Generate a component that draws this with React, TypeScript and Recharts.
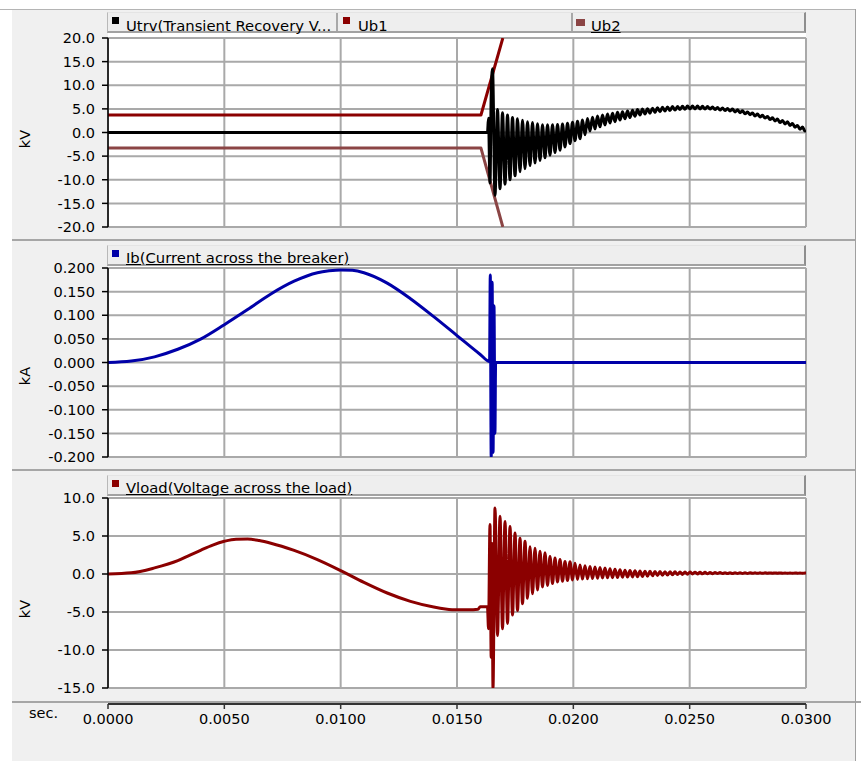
import React from 'react';
import { LineChart, Line, XAxis, YAxis, CartesianGrid } from 'recharts';

const FONT = "'DejaVu Sans', Verdana, sans-serif";

const timeTicks = [0, 0.005, 0.01, 0.015, 0.02, 0.025, 0.03];
const utrvTicks = [-20, -15, -10, -5, 0, 5, 10, 15, 20];
const ibTicks = [-0.2, -0.15, -0.1, -0.05, 0, 0.05, 0.1, 0.15, 0.2];
const vloadTicks = [-15, -10, -5, 0, 5, 10];

const ub1Times = [0, 0.01603, 0.01697];
const ub1Values = [3.7, 3.7, 20];
const ub2Times = [0, 0.01603, 0.01697];
const ub2Values = [-3.3, -3.3, -20];

const utrvTimes = [0, 0.01631, 0.016354, 0.016418, 0.01647, 0.016526, 0.016633];
const utrvValues = [0, 0, 3.0, -10.7, 8.0, 13.5, -13.3];
const ringStart = 0.016741;
const ringHalfPeriod = 0.00010745;
const utrvRing = [
  4.85, -11.9, 4.2, -10.95, 3.7, -10.0, 3.2, -9.15, 2.9, -8.3,
  2.6, -7.65, 2.3, -7.0, 2.1, -6.45, 1.85, -5.9, 1.65, -5.35,
  1.65, -4.8, 1.65, -4.25, 1.7, -3.75, 1.8, -3.05, 1.95, -2.35,
  2.15, -1.75, 2.4, -1.3, 2.65, -0.5, 2.95, 0.3, 3.25, 0.75,
  3.5, 1.2, 3.7, 1.6, 3.9, 2.0, 4.05, 2.3, 4.3, 2.65,
  4.4, 2.9, 4.55, 3.15, 4.7, 3.45, 4.85, 3.7, 4.95, 3.9,
  5.05, 4.1, 5.15, 4.25, 5.25, 4.4, 5.35, 4.55, 5.4, 4.65,
  5.5, 4.75, 5.5, 4.85, 5.55, 4.9, 5.6, 5.0, 5.6, 5.0,
  5.6, 5.0, 5.55, 4.95, 5.5, 4.95, 5.4, 4.85, 5.3, 4.75,
  5.2, 4.65, 5.1, 4.55, 4.95, 4.35, 4.8, 4.2, 4.6, 3.95,
  4.35, 3.75, 4.15, 3.5, 3.9, 3.3, 3.65, 3.05, 3.4, 2.75,
  3.1, 2.45, 2.85, 2.1, 2.55, 1.8, 2.25, 1.5, 1.9, 1.1,
  1.5, 0.7, 1.15, 0.3,
];
const utrvEndTime = 0.03;
const utrvEndValue = 0.5;

const ibTimes = [
  0, 0.001, 0.002, 0.003, 0.004, 0.005, 0.006, 0.007, 0.008, 0.009, 0.0095,
  0.01, 0.0105, 0.011, 0.012, 0.013, 0.014, 0.015, 0.016, 0.0164,
  0.01643, 0.01647, 0.01651, 0.01655, 0.01659, 0.01663, 0.01666, 0.03,
];
const ibValues = [
  0, 0.003, 0.012, 0.028, 0.05, 0.08, 0.112, 0.145, 0.172, 0.19, 0.194,
  0.196, 0.195, 0.19, 0.168, 0.135, 0.097, 0.057, 0.017, 0.002,
  0.185, -0.2, 0.17, -0.19, 0.12, -0.15, 0, 0,
];

const vloadTimes = [
  0, 0.001, 0.002, 0.003, 0.0035, 0.004, 0.0045, 0.005, 0.0055, 0.006, 0.0065, 0.007,
  0.008, 0.009, 0.01, 0.011, 0.012, 0.013, 0.014, 0.0145, 0.015, 0.0155,
  0.0159, 0.016, 0.01631, 0.016354, 0.016418, 0.01647, 0.016504, 0.016547, 0.016633,
];
const vloadValues = [
  0, 0.15, 0.8, 1.75, 2.45, 3.15, 3.8, 4.3, 4.58, 4.6, 4.4, 4.05,
  3.1, 1.9, 0.45, -1.1, -2.5, -3.6, -4.35, -4.6, -4.72, -4.72,
  -4.65, -4.3, -4.3, -7.2, 6.5, -11, 4, -15, 8.7,
];
const vloadRing = [
  -8.1, 7.6, -7.2, 6.9, -6.5, 6.25, -5.4, 5.4, -4.8, 4.7,
  -3.9, 4.3, -3.2, 3.6, -2.6, 3.4, -2.1, 3.0, -1.7, 2.8,
  -1.5, 2.3, -1.25, 2.1, -1.05, 1.9, -0.95, 1.65, -0.85, 1.6,
  -0.78, 1.4, -0.72, 1.2, -0.67, 1.1, -0.63, 1.0, -0.6, 0.92,
  -0.56, 0.85, -0.53, 0.78, -0.5, 0.7, -0.48, 0.62, -0.45, 0.55,
  -0.43, 0.5, -0.4, 0.45, -0.38, 0.42, -0.36, 0.4, -0.32, 0.37,
  -0.28, 0.35, -0.24, 0.34, -0.2, 0.33, -0.17, 0.31, -0.14, 0.3,
  -0.11, 0.28, -0.08, 0.27, -0.05, 0.26, -0.03, 0.25, 0.0, 0.24,
  0.0, 0.23, 0.02, 0.22, 0.03, 0.21, 0.04, 0.2, 0.05, 0.19,
  0.06, 0.18, 0.07, 0.18, 0.07, 0.17, 0.08, 0.17, 0.08, 0.16,
  0.08, 0.16, 0.09, 0.15, 0.09, 0.15, 0.09, 0.15, 0.1, 0.14,
  0.1, 0.14, 0.1, 0.14, 0.1, 0.13, 0.1, 0.13, 0.1, 0.13,
  0.11, 0.12, 0.11, 0.12,
];
const vloadEndTime = 0.03;
const vloadEndValue = 0.12;

const pts = (ts: number[], vs: number[]) => ts.map((t, i) => ({ t, v: vs[i] }));
const ring = (start: number, vals: number[]) =>
  vals.map((v, i) => ({ t: start + i * ringHalfPeriod, v }));

const ub1Data = pts(ub1Times, ub1Values);
const ub2Data = pts(ub2Times, ub2Values);
const utrvData = [
  ...pts(utrvTimes, utrvValues),
  ...ring(ringStart, utrvRing),
  { t: utrvEndTime, v: utrvEndValue },
];
const ibData = pts(ibTimes, ibValues);
const vloadData = [
  ...pts(vloadTimes, vloadValues),
  ...ring(ringStart, vloadRing),
  { t: vloadEndTime, v: vloadEndValue },
];

const W = 861;
const PLOT_L = 108;
const PLOT_R = 806;
const YAXIS_W = 60;
const GRID = '#a9a9a9';

type Series = { name: string; data: { t: number; v: number }[]; color: string; curve: 'linear' | 'monotone' };

function Panel(props: {
  top: number;
  height: number;
  plotTop: number;
  plotBottom: number;
  domain: [number, number];
  ticks: number[];
  digits: number;
  series: Series[];
}) {
  const { top, height, plotTop, plotBottom, domain, ticks, digits, series } = props;
  return (
    <div style={{ position: 'absolute', left: 0, top, width: W, height }}>
      <LineChart
        width={W}
        height={height}
        margin={{ top: plotTop - top, right: W - PLOT_R, bottom: top + height - plotBottom, left: PLOT_L - YAXIS_W }}
      >
        <CartesianGrid stroke={GRID} strokeWidth={2} />
        <XAxis type="number" dataKey="t" domain={[0, 0.03]} ticks={timeTicks} allowDataOverflow hide />
        <YAxis
          type="number"
          domain={domain}
          ticks={ticks}
          allowDataOverflow
          width={YAXIS_W}
          tickFormatter={(v: number) => v.toFixed(digits)}
          tick={{ fill: '#000', fontSize: 14.5, fontFamily: FONT }}
          axisLine={{ stroke: '#000', strokeWidth: 1.5 }}
          tickLine={{ stroke: '#000', strokeWidth: 1.5 }}
          tickSize={6}
          tickMargin={7}
        />
        {series.map((s) => (
          <Line
            key={s.name}
            name={s.name}
            data={s.data}
            dataKey="v"
            type={s.curve}
            stroke={s.color}
            strokeWidth={3}
            strokeLinejoin="round"
            dot={false}
            activeDot={false}
            isAnimationActive={false}
          />
        ))}
      </LineChart>
    </div>
  );
}

type LegendItem = {
  label: string;
  color: string;
  underline?: boolean;
  width: number;
  markerLeft: number;
  markerTop: number;
  markerW: number;
  textLeft: number;
};

function LegendBar(props: { top: number; textTop: number; items: LegendItem[] }) {
  const { top, textTop, items } = props;
  return (
    <div
      style={{
        position: 'absolute',
        left: 107,
        top,
        width: 699,
        height: 21,
        boxSizing: 'border-box',
        background: '#eeeeee',
        borderTop: '1px solid #e4e4e4',
        borderLeft: '1px solid #b8b8b8',
        borderRight: '2px solid #8e8e8e',
        borderBottom: '2px solid #a2a2a2',
        display: 'flex',
      }}
    >
      {items.map((it, i) => (
        <div
          key={it.label}
          style={{
            position: 'relative',
            width: it.width,
            height: '100%',
            boxSizing: 'border-box',
            borderRight: i < items.length - 1 ? '2px solid #a8a8a8' : 'none',
          }}
        >
          <div
            style={{
              position: 'absolute',
              left: it.markerLeft,
              top: it.markerTop,
              width: it.markerW,
              height: 7,
              background: it.color,
            }}
          />
          <div
            style={{
              position: 'absolute',
              left: it.textLeft,
              top: textTop,
              fontFamily: FONT,
              fontSize: 14.8,
              lineHeight: '17px',
              whiteSpace: 'nowrap',
              color: '#000',
              textDecoration: it.underline ? 'underline' : 'none',
            }}
          >
            {it.label}
          </div>
        </div>
      ))}
    </div>
  );
}

function UnitLabel(props: { text: string; cx: number; cy: number }) {
  return (
    <div
      style={{
        position: 'absolute',
        left: props.cx,
        top: props.cy,
        transform: 'translate(-50%, -50%) rotate(-90deg)',
        fontFamily: FONT,
        fontSize: 14.5,
        lineHeight: '17px',
        color: '#000',
        whiteSpace: 'nowrap',
      }}
    >
      {props.text}
    </div>
  );
}

const axisData = timeTicks.map((t) => ({ t }));

export default function App() {
  return (
    <div
      style={{
        position: 'absolute',
        left: 0,
        top: 0,
        width: W,
        height: 761,
        background: '#ffffff',
        overflow: 'hidden',
        fontFamily: FONT,
      }}
    >
      <div style={{ position: 'absolute', left: 12, top: 9, width: 843, height: 752, background: '#f0f0f0' }} />
      <div style={{ position: 'absolute', left: 0, top: 9, width: 855, height: 1, background: '#b4b4b4' }} />
      <div style={{ position: 'absolute', left: 12, top: 239, width: 843, height: 2, background: '#a6a6a6' }} />
      <div style={{ position: 'absolute', left: 12, top: 469, width: 843, height: 2, background: '#a6a6a6' }} />
      <div style={{ position: 'absolute', left: 12, top: 701, width: 849, height: 2, background: '#a6a6a6' }} />
      <div style={{ position: 'absolute', left: 855, top: 9, width: 1, height: 752, background: '#a0a0a0' }} />

      <div style={{ position: 'absolute', left: PLOT_L, top: 33, width: PLOT_R - PLOT_L, height: 194, background: '#fff' }} />
      <div style={{ position: 'absolute', left: PLOT_L, top: 266, width: PLOT_R - PLOT_L, height: 191, background: '#fff' }} />
      <div style={{ position: 'absolute', left: PLOT_L, top: 496, width: PLOT_R - PLOT_L, height: 192, background: '#fff' }} />

      <LegendBar
        top={12}
        textTop={4}
        items={[
          { label: 'Utrv(Transient Recovery V...', color: '#000000', width: 230, markerLeft: 4, markerTop: 4, markerW: 7, textLeft: 18 },
          { label: 'Ub1', color: '#8b0000', width: 235, markerLeft: 5, markerTop: 4, markerW: 7, textLeft: 20 },
          { label: 'Ub2', color: '#8b4545', underline: true, width: 231, markerLeft: 3, markerTop: 6, markerW: 9, textLeft: 18 },
        ]}
      />
      <LegendBar
        top={245}
        textTop={2.5}
        items={[
          { label: 'Ib(Current across the breaker)', color: '#0000a8', underline: true, width: 696, markerLeft: 4, markerTop: 4, markerW: 7, textLeft: 18 },
        ]}
      />
      <LegendBar
        top={475}
        textTop={2.5}
        items={[
          { label: 'Vload(Voltage across the load)', color: '#8b0000', underline: true, width: 696, markerLeft: 4, markerTop: 4, markerW: 7, textLeft: 18 },
        ]}
      />

      <Panel
        top={0}
        height={240}
        plotTop={38}
        plotBottom={227}
        domain={[-20, 20]}
        ticks={utrvTicks}
        digits={1}
        series={[
          { name: 'Ub2', data: ub2Data, color: '#8b4545', curve: 'linear' },
          { name: 'Ub1', data: ub1Data, color: '#8b0000', curve: 'linear' },
          { name: 'Utrv', data: utrvData, color: '#000000', curve: 'monotone' },
        ]}
      />
      <Panel
        top={240}
        height={230}
        plotTop={268}
        plotBottom={457}
        domain={[-0.2, 0.2]}
        ticks={ibTicks}
        digits={3}
        series={[{ name: 'Ib', data: ibData, color: '#0000a8', curve: 'monotone' }]}
      />
      <Panel
        top={470}
        height={232}
        plotTop={498}
        plotBottom={688}
        domain={[-15, 10]}
        ticks={vloadTicks}
        digits={1}
        series={[{ name: 'Vload', data: vloadData, color: '#8b0000', curve: 'monotone' }]}
      />

      <div style={{ position: 'absolute', left: 0, top: 690, width: W, height: 60 }}>
        <LineChart width={W} height={60} data={axisData} margin={{ top: 4, right: W - PLOT_R, bottom: 6, left: PLOT_L }}>
          <YAxis hide domain={[0, 1]} />
          <XAxis
            type="number"
            dataKey="t"
            domain={[0, 0.03]}
            ticks={timeTicks}
            allowDataOverflow
            height={40}
            tickFormatter={(v: number) => v.toFixed(4)}
            tick={{ fill: '#000', fontSize: 14.5, fontFamily: FONT }}
            axisLine={{ stroke: '#333', strokeWidth: 2 }}
            tickLine={{ stroke: '#333', strokeWidth: 1.5 }}
            tickSize={5}
            tickMargin={5}
          />
        </LineChart>
      </div>

      <UnitLabel text="kV" cx={24.5} cy={138.5} />
      <UnitLabel text="kA" cx={24.5} cy={376} />
      <UnitLabel text="kV" cx={24.5} cy={609} />
      <div
        style={{
          position: 'absolute',
          left: 29,
          top: 705,
          fontFamily: FONT,
          fontSize: 14.5,
          lineHeight: '17px',
          color: '#000',
        }}
      >
        sec.
      </div>
    </div>
  );
}
